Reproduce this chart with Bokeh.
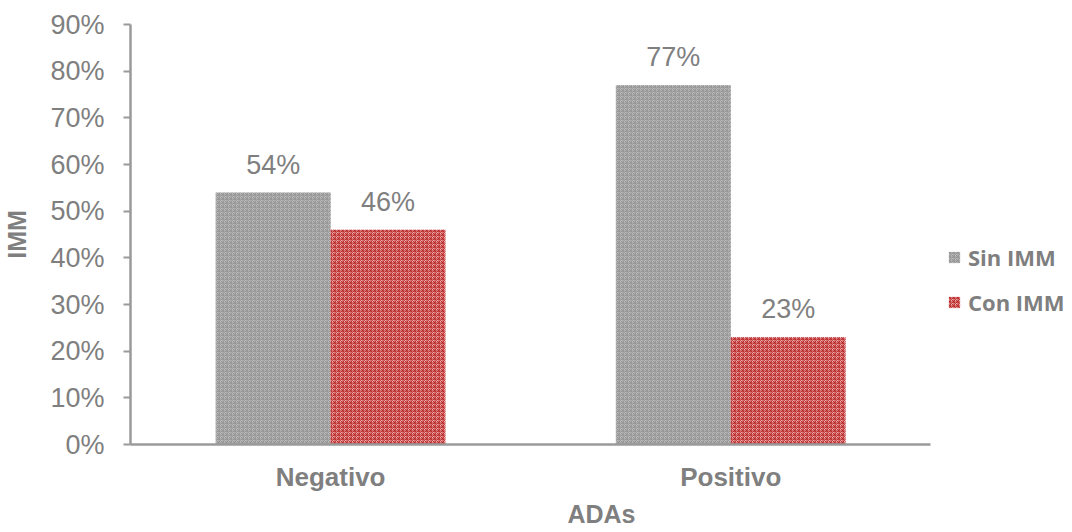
from bokeh.plotting import figure
from bokeh.models import (ColumnDataSource, Legend, LegendItem,
                          FixedTicker, PrintfTickFormatter, Range1d)
from bokeh.transform import dodge
from bokeh.core.properties import value
from bokeh.embed import file_html
from bokeh.resources import INLINE

# ---- data -------------------------------------------------------------
categories = ["Negativo", "Positivo"]
series = ["Sin IMM", "Con IMM"]
sin_imm = [54, 77]
con_imm = [46, 23]
y_ticks = [0, 10, 20, 30, 40, 50, 60, 70, 80, 90]

GRAY_TXT = "#7f7f7f"
AXIS_COL = "#9a9a9a"

# each category occupies one unit on the x scale, centred at i + 0.5
cat_pos = [i + 0.5 for i in range(len(categories))]

src = ColumnDataSource(dict(
    pos=cat_pos,
    sin=sin_imm,
    con=con_imm,
    sin_lbl=[f"{v}%" for v in sin_imm],
    con_lbl=[f"{v}%" for v in con_imm],
))

W, H = 1072, 532
LEFT, RIGHT_AXIS_END = 128, 930
unit_px = (RIGHT_AXIS_END - LEFT) / len(categories)
x_end = (W - LEFT) / unit_px   # frame runs to the page edge, room for the legend

p = figure(x_range=Range1d(0, x_end), y_range=Range1d(0, 90),
           width=W, height=H, output_backend="svg", toolbar_location=None,
           min_border_left=LEFT, min_border_right=0,
           min_border_top=24, min_border_bottom=88)

bar_w = 0.287
off = bar_w / 2

r_sin = p.vbar(x=dodge("pos", -off), top="sin", width=bar_w,
               source=src, line_color=None, fill_color="#bdbdbd",
               hatch_pattern="criss_cross", hatch_color="#939393",
               hatch_scale=4, hatch_weight=0.9)
r_con = p.vbar(x=dodge("pos", off), top="con", width=bar_w,
               source=src, line_color=None, fill_color="#eeb0b0",
               hatch_pattern="criss_cross", hatch_color="#b82222",
               hatch_scale=4, hatch_weight=0.9)

# value labels above the bars
for col, lbl, dx in (("sin", "sin_lbl", -off), ("con", "con_lbl", off)):
    p.text(x=dodge("pos", dx), y=col, text=lbl, source=src,
           text_align="center", text_baseline="bottom", y_offset=-13,
           text_font=value("Liberation Sans"), text_font_size="27px",
           text_color=GRAY_TXT)

# axes
p.yaxis.ticker = FixedTicker(ticks=y_ticks)
p.yaxis.formatter = PrintfTickFormatter(format="%d%%")
p.yaxis.axis_label = "IMM"
p.xaxis.axis_label = "ADAs"
p.xaxis.ticker = FixedTicker(ticks=cat_pos)
p.xaxis.major_label_overrides = {x: c for x, c in zip(cat_pos, categories)}
p.xaxis.bounds = (0, len(categories))

for ax in (p.xaxis[0], p.yaxis[0]):
    ax.axis_line_color = AXIS_COL
    ax.axis_line_width = 2.5
    ax.minor_tick_line_color = None
    ax.axis_label_text_font = "Liberation Sans"
    ax.axis_label_text_font_style = "bold"
    ax.axis_label_text_font_size = "25px"
    ax.axis_label_text_color = GRAY_TXT

p.yaxis.major_tick_line_color = AXIS_COL
p.yaxis.major_tick_line_width = 2
p.yaxis.major_tick_out = 7
p.yaxis.major_tick_in = 0
p.yaxis.major_label_text_font = "Liberation Sans"
p.yaxis.major_label_text_font_size = "27px"
p.yaxis.major_label_text_color = GRAY_TXT
p.yaxis.major_label_standoff = 19
p.yaxis.axis_label_standoff = 16

p.xaxis.major_tick_line_color = None
p.xaxis.major_tick_out = 0
p.xaxis.major_tick_in = 0
p.xaxis.major_label_text_font = "Liberation Sans"
p.xaxis.major_label_text_font_style = "bold"
p.xaxis.major_label_text_font_size = "26px"
p.xaxis.major_label_text_color = GRAY_TXT
p.xaxis.major_label_standoff = 17
p.xaxis.axis_label_standoff = 5

p.xgrid.grid_line_color = None
p.ygrid.grid_line_color = None
p.outline_line_color = None
p.background_fill_color = "white"
p.border_fill_color = "white"

legend = Legend(items=[LegendItem(label=series[0], renderers=[r_sin]),
                       LegendItem(label=series[1], renderers=[r_con])],
                location=(817, 127), orientation="vertical",
                border_line_color=None, background_fill_alpha=0,
                padding=0, margin=0, spacing=15,
                glyph_width=14, glyph_height=14, label_standoff=7,
                label_height=20,
                label_text_font="Open Sans", label_text_font_style="bold",
                label_text_font_size="22px", label_text_color=GRAY_TXT)
p.add_layout(legend)

open("out.html", "w").write(file_html(p, INLINE))
